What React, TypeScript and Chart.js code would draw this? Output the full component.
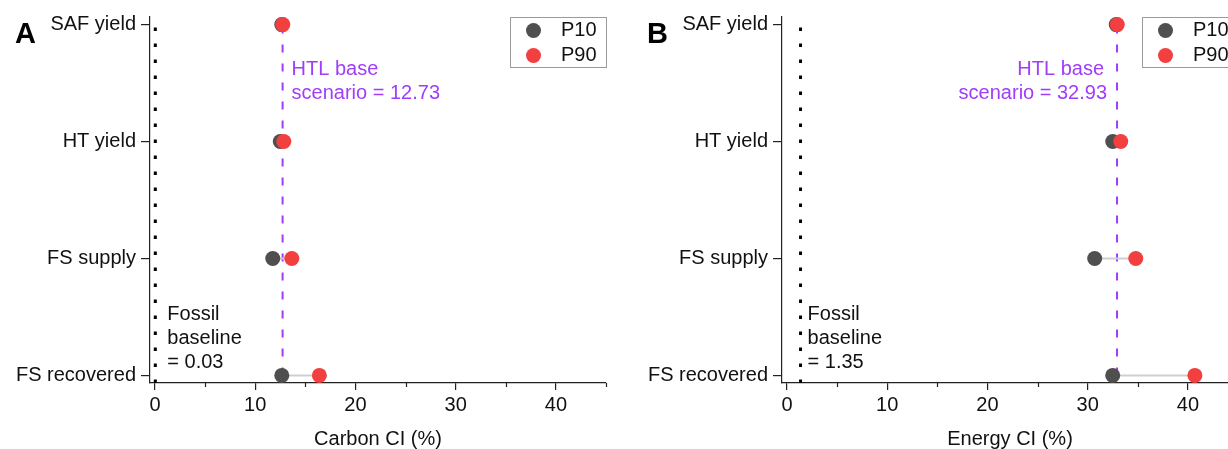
import React, { useEffect, useRef } from 'react';
import { Chart, registerables } from 'chart.js';

Chart.register(...registerables);

// ---- data ----
const categories = ['SAF yield', 'HT yield', 'FS supply', 'FS recovered'];
const carbonP10 = [12.65, 12.5, 11.75, 12.65];
const carbonP90 = [12.75, 12.85, 13.65, 16.4];
const energyP10 = [32.85, 32.5, 30.7, 32.5];
const energyP90 = [32.95, 33.3, 34.8, 40.7];
const carbonBase = 12.73;
const carbonFossil = 0.03;
const energyBase = 32.93;
const energyFossil = 1.35;
const xTickValues = [0, 10, 20, 30, 40];
const xMinorTickValues = [5, 15, 25, 35, 45];
const seriesNames = ['P10', 'P90'];

const X_MIN = -0.5;
const X_MAX = 45;
const Y_MIN = -0.065;
const Y_MAX = 3.065;

const FONT = '"Liberation Sans", Arial, Helvetica, sans-serif';
const P10_COLOR = '#4f4f4f';
const P90_COLOR = '#f23f3f';
const PURPLE = '#a03cfa';
const AXIS = '#222222';

type Panel = {
  letter: string;
  title: string;
  p10: number[];
  p90: number[];
  base: number;
  fossil: number;
  fossilText: string;
  baseLeft: boolean; // base label left of the line
};

const panels: Panel[] = [
  {
    letter: 'A',
    title: 'Carbon CI (%)',
    p10: carbonP10,
    p90: carbonP90,
    base: carbonBase,
    fossil: carbonFossil,
    fossilText: '= 0.03',
    baseLeft: false,
  },
  {
    letter: 'B',
    title: 'Energy CI (%)',
    p10: energyP10,
    p90: energyP90,
    base: energyBase,
    fossil: energyFossil,
    fossilText: '= 1.35',
    baseLeft: true,
  },
];

const yOf = (i: number) => categories.length - 1 - i;

function makeConfig(p: Panel): any {
  const n = categories.length;
  const connectors = categories.map((_, i) => ({
    type: 'scatter',
    showLine: true,
    data: [
      { x: p.p10[i], y: yOf(i) },
      { x: p.p90[i], y: yOf(i) },
    ],
    borderColor: '#cfcfcf',
    borderWidth: 2,
    pointRadius: 0,
    order: 3,
  }));

  const decor = {
    id: 'decor',
    afterDraw(chart: any) {
      const ctx = chart.ctx as CanvasRenderingContext2D;
      const xs = chart.scales.x;
      const ys = chart.scales.y;
      const ca = chart.chartArea;
      ctx.save();
      // minor ticks
      ctx.strokeStyle = AXIS;
      ctx.lineWidth = 1.2;
      xMinorTickValues.forEach((v) => {
        const px = Math.round(xs.getPixelForValue(v)) + 0.5;
        ctx.beginPath();
        ctx.moveTo(px, ca.bottom);
        ctx.lineTo(px, ca.bottom + 4);
        ctx.stroke();
      });

      // panel letter
      ctx.fillStyle = '#000';
      ctx.font = `bold 29px ${FONT}`;
      ctx.textAlign = 'left';
      ctx.textBaseline = 'alphabetic';
      ctx.fillText(p.letter, 15, 43);

      // base scenario label
      ctx.font = `20px ${FONT}`;
      ctx.textBaseline = 'middle';
      ctx.fillStyle = PURPLE;
      const bx = xs.getPixelForValue(p.base);
      if (p.baseLeft) {
        ctx.textAlign = 'right';
        ctx.fillText('HTL base', bx - 13, ys.getPixelForValue(2.62));
        ctx.fillText(`scenario = ${p.base.toFixed(2)}`, bx - 10, ys.getPixelForValue(2.415));
      } else {
        ctx.textAlign = 'left';
        ctx.fillText('HTL base', bx + 9, ys.getPixelForValue(2.62));
        ctx.fillText(`scenario = ${p.base.toFixed(2)}`, bx + 9, ys.getPixelForValue(2.415));
      }

      // fossil baseline label
      ctx.fillStyle = '#111';
      ctx.textAlign = 'left';
      const fx = xs.getPixelForValue(p.fossil) + (p.baseLeft ? 7 : 12);
      ctx.fillText('Fossil', fx, ys.getPixelForValue(0.523));
      ctx.fillText('baseline', fx, ys.getPixelForValue(0.318));
      ctx.fillText(p.fossilText, fx, ys.getPixelForValue(0.114));

      // legend
      const lw = 96;
      const lh = 50;
      const lx = ca.right - lw;
      const ly = ca.top;
      ctx.strokeStyle = '#9a9a9a';
      ctx.lineWidth = 1;
      ctx.strokeRect(Math.round(lx) + 0.5, Math.round(ly) + 0.5, lw, lh);
      const colors = [P10_COLOR, P90_COLOR];
      seriesNames.forEach((name, k) => {
        const cy = ly + 13.5 + k * 25;
        ctx.fillStyle = colors[k];
        ctx.beginPath();
        ctx.arc(lx + 23.5, cy, 7.5, 0, Math.PI * 2);
        ctx.fill();
        ctx.fillStyle = '#111';
        ctx.textAlign = 'left';
        ctx.fillText(name, lx + 51, cy);
      });
      ctx.restore();
    },
  };

  return {
    type: 'scatter',
    data: {
      datasets: [
        {
          label: seriesNames[1],
          data: categories.map((_, i) => ({ x: p.p90[i], y: yOf(i) })),
          backgroundColor: P90_COLOR,
          borderWidth: 0,
          pointRadius: 7.5,
          order: 0,
        },
        {
          label: seriesNames[0],
          data: categories.map((_, i) => ({ x: p.p10[i], y: yOf(i) })),
          backgroundColor: P10_COLOR,
          borderWidth: 0,
          pointRadius: 7.5,
          order: 1,
        },
        ...connectors,
        {
          label: 'base',
          showLine: true,
          data: [
            { x: p.base, y: 0 },
            { x: p.base, y: n - 1 },
          ],
          borderColor: PURPLE,
          borderWidth: 2,
          borderDash: [8, 11],
          pointRadius: 0,
          order: 4,
        },
        {
          label: 'fossil',
          showLine: true,
          data: [
            { x: p.fossil, y: Y_MIN },
            { x: p.fossil, y: Y_MAX },
          ],
          borderColor: '#000',
          borderWidth: 3,
          borderDash: [3.5, 12.5],
          pointRadius: 0,
          order: 4,
        },
      ],
    },
    options: {
      animation: false,
      responsive: false,
      maintainAspectRatio: false,
      layout: { padding: { left: 0, top: 16, right: 26, bottom: 0 } },
      plugins: {
        legend: { display: false },
        tooltip: { enabled: false },
      },
      scales: {
        x: {
          type: 'linear',
          min: X_MIN,
          max: X_MAX,
          afterBuildTicks: (s: any) => {
            s.ticks = xTickValues.map((v) => ({ value: v }));
          },
          afterFit: (s: any) => {
            s.height = 66;
          },
          grid: { drawOnChartArea: false, drawTicks: true, tickLength: 7, color: AXIS, lineWidth: 1.2 },
          border: { display: true, color: AXIS, width: 1.2 },
          ticks: {
            font: { family: FONT, size: 20 },
            color: '#111',
            padding: 3,
            maxRotation: 0,
            autoSkip: false,
          },
          title: {
            display: true,
            text: p.title,
            font: { family: FONT, size: 20, lineHeight: 1 },
            color: '#111',
            padding: { top: 0, bottom: 0 },
          },
        },
        y: {
          type: 'linear',
          min: Y_MIN,
          max: Y_MAX,
          afterBuildTicks: (s: any) => {
            s.ticks = categories.map((_, i) => ({ value: i }));
          },
          afterFit: (s: any) => {
            s.width = 150;
          },
          grid: { drawOnChartArea: false, drawTicks: true, tickLength: 9, color: AXIS, lineWidth: 1.2 },
          border: { display: true, color: AXIS, width: 1.2 },
          ticks: {
            font: { family: FONT, size: 20 },
            color: '#111',
            padding: 5,
            autoSkip: false,
            callback: (v: any) => categories[categories.length - 1 - Number(v)],
          },
        },
      },
    },
    plugins: [decor],
  };
}

function PanelChart({ panel, left }: { panel: Panel; left: number }) {
  const ref = useRef<HTMLCanvasElement | null>(null);
  useEffect(() => {
    if (!ref.current) return;
    const chart = new Chart(ref.current, makeConfig(panel));
    return () => chart.destroy();
  }, [panel]);
  return (
    <canvas
      ref={ref}
      width={632}
      height={449}
      style={{ position: 'absolute', left, top: 0, width: 632, height: 449 }}
    />
  );
}

export default function App() {
  return (
    <div
      style={{
        position: 'fixed',
        left: 0,
        top: 0,
        width: 1228,
        height: 449,
        overflow: 'hidden',
        background: '#fff',
      }}
    >
      <PanelChart panel={panels[0]} left={0} />
      <PanelChart panel={panels[1]} left={632} />
    </div>
  );
}
